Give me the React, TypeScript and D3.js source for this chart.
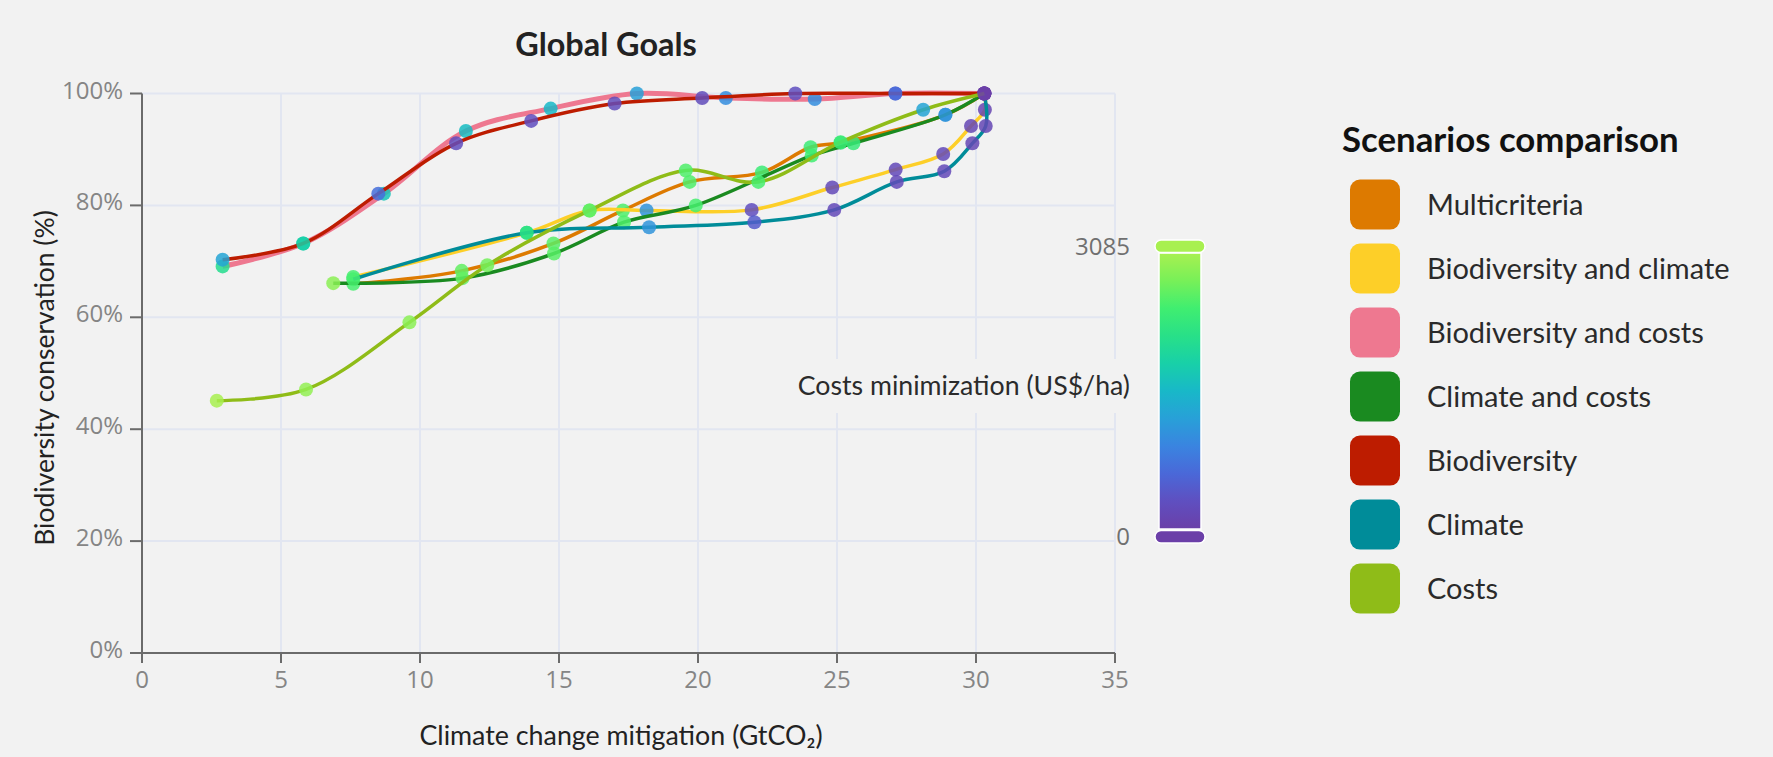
import React from "react";
import * as d3 from "d3";

// ---------- data ----------
const scenarioNames = [
  "Multicriteria",
  "Biodiversity and climate",
  "Biodiversity and costs",
  "Climate and costs",
  "Biodiversity",
  "Climate",
  "Costs",
];
const scenarioColors = ["#dd7a00", "#fdcf28", "#ee7890", "#1a8a20", "#bd1c00", "#008c99", "#8fbc18"];

const multicriteriaX = [7.6, 11.5, 14.8, 17.3, 19.7, 22.3, 24.05, 25.13, 28.9, 30.3];
const multicriteriaY = [66.0, 68.3, 73.2, 79.1, 84.2, 85.9, 90.4, 91.2, 96.2, 100];
const multicriteriaCost = [2500, 2650, 2600, 2550, 2550, 2400, 2400, 2300, 1100, 0];

const bioClimateX = [7.6, 13.84, 16.1, 18.15, 21.93, 24.83, 27.11, 28.82, 29.82, 30.32, 30.3];
const bioClimateY = [67.2, 75.1, 79.1, 79.1, 79.2, 83.2, 86.4, 89.2, 94.2, 97.1, 100];
const bioClimateCost = [2500, 2220, 2600, 1100, 280, 200, 200, 200, 150, 120, 0];

const bioCostsX = [2.9, 5.8, 8.7, 11.65, 14.7, 17.8, 21.0, 24.2, 27.1, 30.3];
const bioCostsY = [69.1, 73.2, 82.1, 93.3, 97.3, 100, 99.2, 99.0, 100, 100];
const bioCostsCost = [2100, 1850, 1700, 1600, 1540, 1230, 1020, 1020, 620, 0];

const climateCostsX = [6.88, 11.53, 14.82, 17.34, 19.92, 24.09, 25.59, 28.9, 30.3];
const climateCostsY = [66.1, 67.0, 71.4, 77.0, 80.0, 88.9, 91.1, 96.2, 100];
const climateCostsCost = [2900, 2650, 2600, 2550, 2500, 2450, 2350, 1100, 0];

const biodiversityX = [2.9, 5.8, 8.5, 11.3, 14.0, 17.0, 20.15, 23.5, 27.1, 30.3];
const biodiversityY = [70.3, 73.2, 82.1, 91.1, 95.1, 98.2, 99.2, 100, 100, 100];
const biodiversityCost = [1300, 1850, 680, 280, 280, 250, 250, 300, 620, 0];

const climateX = [7.6, 13.84, 18.24, 22.03, 24.9, 27.15, 28.86, 29.87, 30.35, 30.3];
const climateY = [66.8, 75.1, 76.1, 77.0, 79.2, 84.2, 86.1, 91.1, 94.2, 100];
const climateCost = [2500, 2220, 1100, 450, 200, 200, 200, 150, 150, 0];

const costsX = [2.69, 5.9, 9.62, 12.42, 16.1, 19.56, 22.17, 25.13, 28.1, 30.3];
const costsY = [45.1, 47.1, 59.1, 69.3, 79.1, 86.25, 84.2, 91.3, 97.1, 100];
const costsCost = [3085, 2950, 2900, 2750, 2650, 2550, 2500, 2400, 1300, 0];

const seriesX = [multicriteriaX, bioClimateX, bioCostsX, climateCostsX, biodiversityX, climateX, costsX];
const seriesY = [multicriteriaY, bioClimateY, bioCostsY, climateCostsY, biodiversityY, climateY, costsY];
const seriesCost = [multicriteriaCost, bioClimateCost, bioCostsCost, climateCostsCost, biodiversityCost, climateCost, costsCost];

const xTicks = [0, 5, 10, 15, 20, 25, 30, 35];
const yTicks = [0, 20, 40, 60, 80, 100];
const costMax = 3085;
const colorStops = ["#6b3fa8", "#5f4fc0", "#4a68d8", "#3a84e0", "#28a0d8", "#18b8c8", "#18d0a8", "#28e088", "#40ee70", "#78f058", "#a8f050"];

// ---------- layout ----------
const W = 1773;
const H = 757;
const BG = "#f2f2f2";
const left = 142, right = 1115, top = 93.5, bottom = 653;

export default function App() {
  const x = d3.scaleLinear().domain([0, 35]).range([left, right]);
  const y = d3.scaleLinear().domain([0, 100]).range([bottom, top]);
  const color = d3
    .scaleLinear<string>()
    .domain(colorStops.map((_, i) => (i / (colorStops.length - 1)) * costMax))
    .range(colorStops)
    .interpolate(d3.interpolateRgb);
  const cbY = d3.scaleLinear().domain([0, costMax]).range([536.7, 246.3]);

  const line = d3
    .line<[number, number]>()
    .x((d) => x(d[0]))
    .y((d) => y(d[1]))
    .curve(d3.curveCatmullRom.alpha(0.5));

  const legendY = (i: number) => 204.6 + i * 64;

  return (
    <svg width={W} height={H} style={{ position: "absolute", left: 0, top: 0, background: BG }}>
      <defs>
        <linearGradient id="cbgrad" x1="0" y1="1" x2="0" y2="0">
          {colorStops.map((c, i) => (
            <stop key={i} offset={i / (colorStops.length - 1)} stopColor={c} />
          ))}
        </linearGradient>
      </defs>
      <rect x={0} y={0} width={W} height={H} fill={BG} />

      {/* grid */}
      {xTicks.slice(1).map((t) => (
        <line key={"gx" + t} x1={x(t)} x2={x(t)} y1={top} y2={bottom} stroke="#e2e6f1" strokeWidth={2} />
      ))}
      {yTicks.slice(1).map((t) => (
        <line key={"gy" + t} x1={left} x2={right} y1={y(t)} y2={y(t)} stroke="#e2e6f1" strokeWidth={2} />
      ))}

      {/* colorbar title with background */}
      <rect x={788} y={359} width={348} height={54} fill={BG} />
      <text x={1130} y={395} textAnchor="end" fontFamily="Lato" fontSize={26.7} fill="#2b2b2b">
        Costs minimization (US$/ha)
      </text>

      {/* axes */}
      <line x1={left} x2={left} y1={top} y2={bottom} stroke="#6b6b6b" strokeWidth={2} />
      <line x1={left} x2={right} y1={bottom} y2={bottom} stroke="#6b6b6b" strokeWidth={2} />
      {xTicks.map((t) => (
        <g key={"xt" + t}>
          <line x1={x(t)} x2={x(t)} y1={bottom} y2={bottom + 10} stroke="#6b6b6b" strokeWidth={2} />
          <text x={x(t)} y={688} textAnchor="middle" fontFamily="Open Sans" fontSize={24} fill="#858585">
            {t}
          </text>
        </g>
      ))}
      {yTicks.map((t) => (
        <g key={"yt" + t}>
          <line x1={left - 12} x2={left} y1={y(t)} y2={y(t)} stroke="#6b6b6b" strokeWidth={2} />
          <text x={123} y={y(t) + 5} textAnchor="end" fontFamily="Open Sans" fontSize={24} fill="#858585">
            {t + "%"}
          </text>
        </g>
      ))}

      {/* series */}
      {scenarioNames.map((name, s) => {
        const pts = seriesX[s].map((vx, i) => [vx, seriesY[s][i]] as [number, number]);
        return (
          <g key={name}>
            <path d={line(pts) || ""} fill="none" stroke={scenarioColors[s]} strokeWidth={s === 2 ? 5 : 3.5} />
            {pts.map((p, i) => (
              <circle key={i} cx={x(p[0])} cy={y(p[1])} r={7} fill={color(seriesCost[s][i])} opacity={0.85} />
            ))}
          </g>
        );
      })}

      {/* titles */}
      <text x={606} y={56} textAnchor="middle" fontFamily="Lato" fontWeight="bold" fontSize={32.4} fill="#222">
        Global Goals
      </text>
      <text x={621} y={745} textAnchor="middle" fontFamily="Lato" fontSize={26.8} fill="#222">
        Climate change mitigation (GtCO₂)
      </text>
      <text transform="translate(54,378) rotate(-90)" textAnchor="middle" fontFamily="Lato" fontSize={26.5} fill="#222">
        Biodiversity conservation (%)
      </text>

      {/* colorbar */}
      <rect x={1159} y={253} width={42} height={276} fill="url(#cbgrad)" stroke="#ffffff" strokeWidth={1.5} />
      <rect x={1155} y={240} width={50} height={12.5} rx={6} fill={color(costMax)} stroke="#ffffff" strokeWidth={1.5} />
      <rect x={1155} y={530.5} width={50} height={12.5} rx={6} fill={color(0)} stroke="#ffffff" strokeWidth={1.5} />
      {[costMax, 0].map((t) => (
        <text key={"cb" + t} x={1130} y={cbY(t) + 8.5} textAnchor="end" fontFamily="Open Sans" fontSize={24} fill="#707070">
          {t}
        </text>
      ))}

      {/* legend */}
      <text x={1342} y={151.5} fontFamily="Lato" fontWeight="bold" fontSize={34.8} fill="#111">
        Scenarios comparison
      </text>
      {scenarioNames.map((name, i) => (
        <g key={"lg" + name}>
          <rect x={1350} y={legendY(i) - 25} width={50} height={50} rx={10} fill={scenarioColors[i]} />
          <text x={1427} y={legendY(i) + 10.5} fontFamily="Lato" fontSize={29} fill="#2a2a2a">
            {name}
          </text>
        </g>
      ))}
    </svg>
  );
}
